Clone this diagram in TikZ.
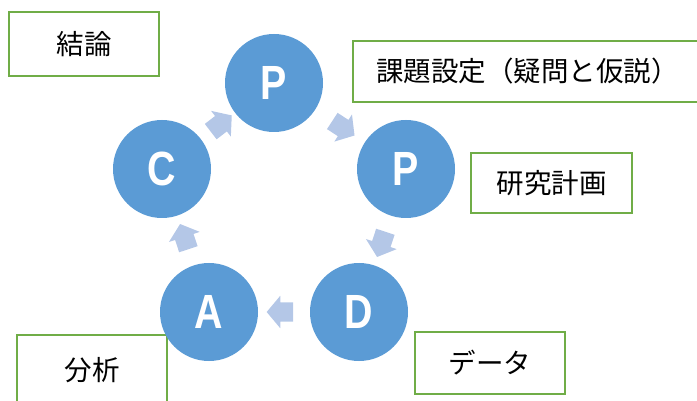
\documentclass[tikz,border=0pt]{standalone}
\usepackage{fontspec}
\newfontfamily\jpfont{Noto Sans CJK JP}
\newfontfamily\letterfont[FakeStretch=0.82]{Liberation Sans}
\usetikzlibrary{shapes.arrows}
\definecolor{cycleblue}{HTML}{5B9BD5}
\definecolor{arrowblue}{HTML}{B4C7E7}
\definecolor{boxgreen}{HTML}{70AD47}

\begin{document}
\begin{tikzpicture}[x=1pt,y=-1pt,
    main node/.style={circle,fill=cycleblue,minimum size=98pt,inner sep=0pt,text=white,font=\letterfont\bfseries\fontsize{48}{48}\selectfont},
    note/.style={draw=boxgreen,line width=2.5pt,fill=white,inner sep=0pt,font=\jpfont\fontsize{27.5}{27.5}\selectfont},
    flow/.style={single arrow,fill=arrowblue,draw=none,inner xsep=9pt,inner ysep=9.5pt,single arrow head extend=6.5pt,single arrow tip angle=100,sloped,allow upside down}]
    \clip (0,0) rectangle (697,401);

    \node[note, minimum width=150pt, minimum height=64pt] (6) at (84,44) {結論};
    \node[note, minimum width=367pt, minimum height=61pt, text width=321pt, align=left] (7) at (536.5,71.5) {課題設定（疑問と仮説）};
    \node[note, minimum width=161pt, minimum height=60pt] (8) at (551.5,183) {研究計画};
    \node[note, minimum width=150pt, minimum height=62pt] (9) at (490,363) {データ};
    \node[note, minimum width=150pt, minimum height=70pt] (10) at (92,370) {分析};

    \node[main node] (1) at (274,83) {P};
    \node[main node] (2) at (406,169) {P};
    \node[main node] (3) at (359,312) {D};
    \node[main node] (4) at (209,312) {A};
    \node[main node] (5) at (162,169) {C};

    \path[every node/.style={flow}]
        (5) -- node {} (1)
        (1) -- node {} (2)
        (2) -- node {} (3)
        (3) -- node {} (4)
        (4) -- node {} (5);

\end{tikzpicture}
\end{document}
